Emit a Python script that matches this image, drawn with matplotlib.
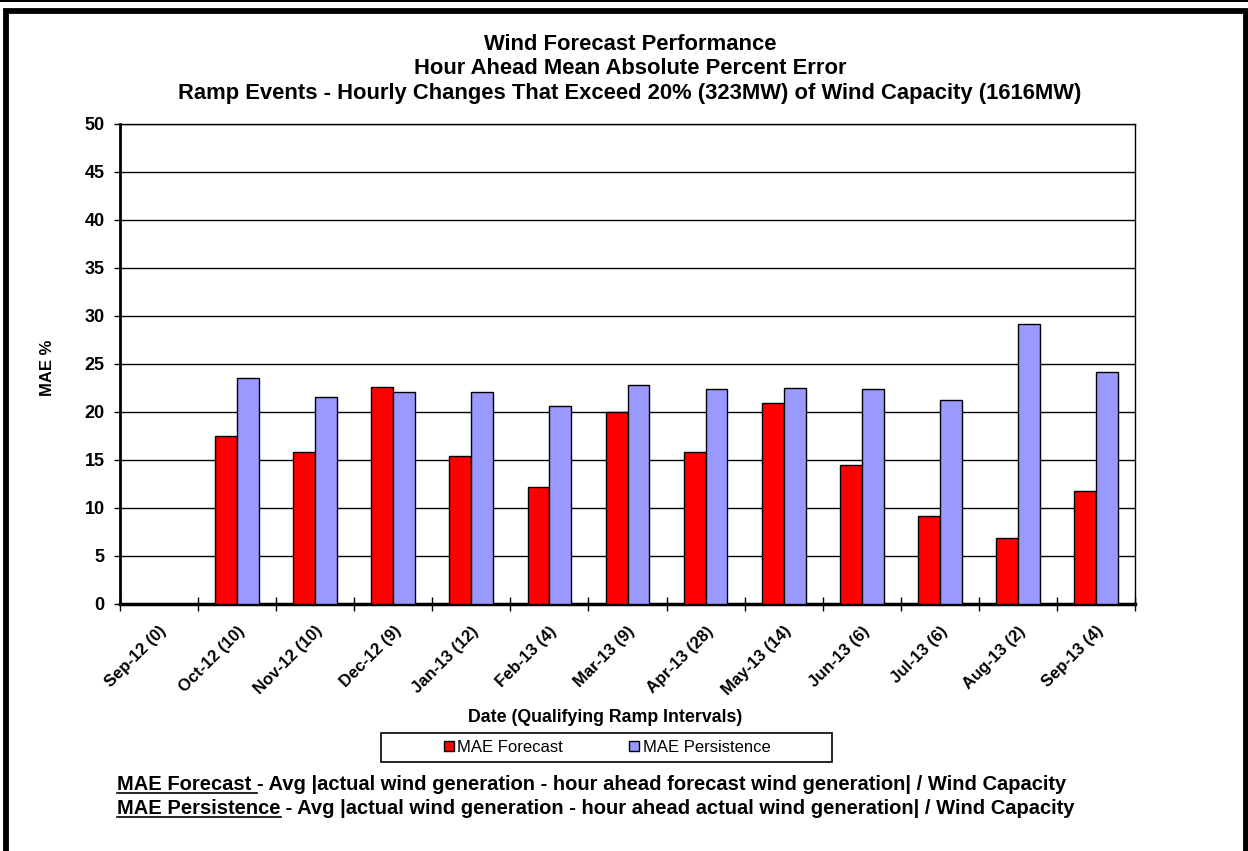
import numpy as np
import matplotlib
matplotlib.use("Agg")
import matplotlib.pyplot as plt
from matplotlib.patches import Rectangle
from matplotlib.lines import Line2D

plt.rcParams['font.family'] = ['Liberation Sans', 'DejaVu Sans']

# data
months = ["Sep-12 (0)", "Oct-12 (10)", "Nov-12 (10)", "Dec-12 (9)", "Jan-13 (12)",
          "Feb-13 (4)", "Mar-13 (9)", "Apr-13 (28)", "May-13 (14)", "Jun-13 (6)",
          "Jul-13 (6)", "Aug-13 (2)", "Sep-13 (4)"]
mae_forecast = [0, 17.5, 15.8, 22.6, 15.4, 12.2, 20.0, 15.8, 20.9, 14.5, 9.2, 6.9, 11.8]
mae_persistence = [0, 23.5, 21.6, 22.1, 22.1, 20.6, 22.8, 22.4, 22.5, 22.4, 21.2, 29.2, 24.2]

W, H = 1248, 851
fig = plt.figure(figsize=(W / 100, H / 100), dpi=100)

def fx(px):
    return px / W

def fy(py):
    return 1 - py / H

# outer frame like the original slide (bottom edge is cut off)
fig.patches.append(Rectangle((0, fy(2)), 1, 2 / H, transform=fig.transFigure,
                             facecolor="black", edgecolor="none"))
fig.patches.append(Rectangle((fx(6), fy(900)), fx(1246) - fx(6), fy(10.5) - fy(900),
                             transform=fig.transFigure, facecolor="none",
                             edgecolor="black", linewidth=4.2, clip_on=False))

ax = fig.add_axes([fx(120), fy(604), fx(1135) - fx(120), fy(124) - fy(604)])

x = np.arange(len(months))
bw = 0.28
ax.bar(x - bw / 2, mae_forecast, bw, color="#ff0000", edgecolor="black",
       linewidth=1, label="MAE Forecast", zorder=3)
ax.bar(x + bw / 2, mae_persistence, bw, color="#9999ff", edgecolor="black",
       linewidth=1, label="MAE Persistence", zorder=3)

ax.set_xlim(-0.5, len(months) - 0.5)
ax.set_ylim(0, 50)
ax.set_yticks(np.arange(0, 51, 5))
ax.yaxis.grid(True, color="black", linewidth=1, zorder=0)
ax.set_axisbelow(True)

ax.set_xticks(np.arange(-0.5, len(months), 1))
ax.set_xticklabels([])
ax.set_xticks(x, minor=True)
ax.set_xticklabels(months, minor=True, rotation=45, ha="right",
                   rotation_mode="anchor", fontsize=12, fontweight="bold")
ax.tick_params(axis="x", which="minor", length=0, pad=14)
ax.tick_params(axis="x", which="major", direction="inout", length=10, width=1)
ax.tick_params(axis="y", direction="out", length=4, width=1, labelsize=13, pad=7)
for lab in ax.get_yticklabels():
    lab.set_fontweight("bold")

ax.spines["left"].set_linewidth(2)
ax.spines["bottom"].set_linewidth(2.5)
ax.spines["top"].set_linewidth(1)
ax.spines["right"].set_linewidth(1)

fig.text(fx(47), fy(368), "MAE %", rotation=90, ha="center", va="center",
         fontsize=12, fontweight="bold")
fig.text(fx(605), fy(717), "Date (Qualifying Ramp Intervals)", ha="center",
         va="center", fontsize=12.8, fontweight="bold")

titles = ["Wind Forecast Performance",
          "Hour Ahead Mean Absolute Percent Error",
          "Ramp Events - Hourly Changes That Exceed 20% (323MW) of Wind Capacity (1616MW)"]
for t, yp in zip(titles, [44, 68, 93]):
    fig.text(fx(630), fy(yp), t, ha="center", va="center", fontsize=15.8,
             fontweight="bold")

# legend box drawn separately so its width matches the original
fig.patches.append(Rectangle((fx(381), fy(762)), fx(832) - fx(381), fy(733) - fy(762),
                             transform=fig.transFigure, facecolor="white",
                             edgecolor="black", linewidth=1.2))
leg = fig.legend(loc="center", bbox_to_anchor=(fx(607), fy(747.5)), ncol=2,
                 fontsize=12, frameon=False, handlelength=0.6, handleheight=0.6,
                 handletextpad=0.2, columnspacing=4.0, borderpad=0, borderaxespad=0)

renderer = fig.canvas.get_renderer()
notes = [("MAE Forecast ", "- Avg |actual wind generation - hour ahead forecast wind generation| / Wind Capacity", 784),
         ("MAE Persistence", " - Avg |actual wind generation - hour ahead actual wind generation| / Wind Capacity", 808)]
for head, rest, yp in notes:
    t = fig.text(fx(117), fy(yp), head, ha="left", va="center", fontsize=14.5,
                 fontweight="bold")
    bb = t.get_window_extent(renderer)
    fig.text(bb.x1 / W, fy(yp), rest, ha="left", va="center", fontsize=14.5,
             fontweight="bold")
    fig.lines.append(Line2D([bb.x0 / W, bb.x1 / W], [(bb.y0 + 1) / H, (bb.y0 + 1) / H],
                            transform=fig.transFigure, color="black", linewidth=1.2))

fig.savefig("out.png", dpi=100)
